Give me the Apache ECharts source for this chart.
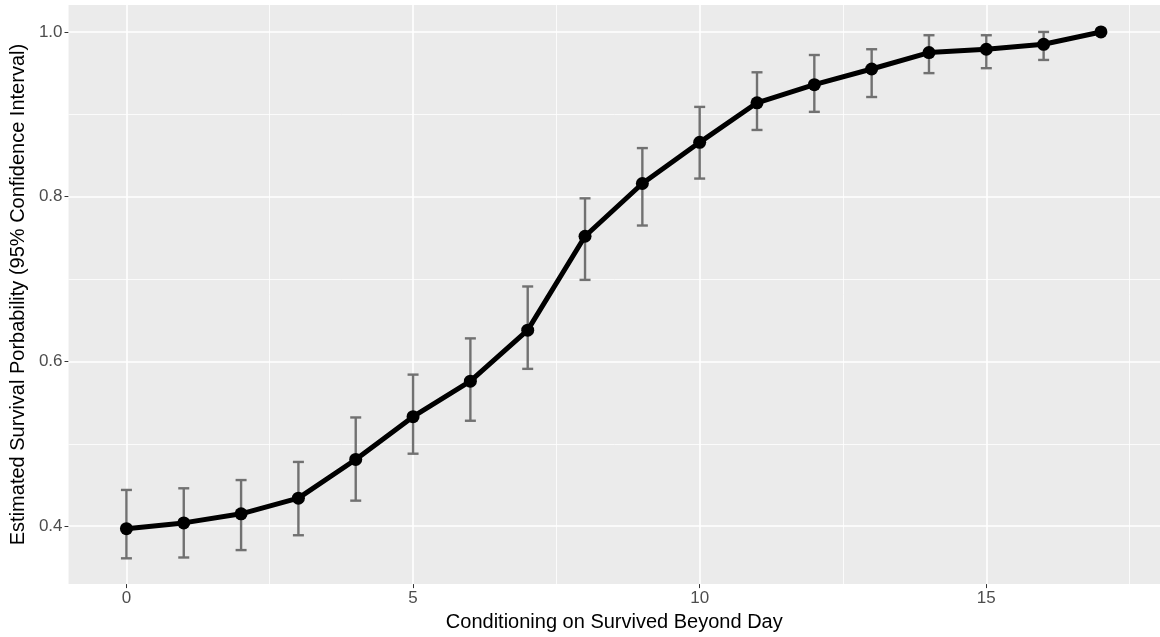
<!DOCTYPE html>
<html>
<head>
<meta charset="utf-8">
<script src="https://cdn.jsdelivr.net/npm/echarts@6/dist/echarts.min.js"></script>
<style>
  html, body { margin: 0; padding: 0; background: #fff; }
  #chart { width: 1160px; height: 637px; }
</style>
</head>
<body>
<div id="chart"></div>
<script>
// day conditioned on, estimate and 95% CI
var days = [0, 1, 2, 3, 4, 5, 6, 7, 8, 9, 10, 11, 12, 13, 14, 15, 16, 17]
var estimate = [0.397, 0.404, 0.415, 0.434, 0.481, 0.533, 0.576, 0.638, 0.752, 0.816, 0.866, 0.914, 0.936, 0.955, 0.975, 0.979, 0.985, 1.0]
var lower = [0.361, 0.362, 0.371, 0.389, 0.431, 0.488, 0.528, 0.591, 0.699, 0.765, 0.822, 0.881, 0.903, 0.921, 0.950, 0.956, 0.966, null]
var upper = [0.444, 0.446, 0.456, 0.478, 0.532, 0.584, 0.628, 0.691, 0.798, 0.859, 0.909, 0.951, 0.972, 0.979, 0.996, 0.996, 1.0, null]

var xTicks = [0, 5, 10, 15]
var xMinor = [2.5, 7.5, 12.5, 17.5]
var yTicks = [0.4, 0.6, 0.8, 1.0]
var yMinor = [0.5, 0.7, 0.9]

var lineData = days.map(function (d, i) { return [d, estimate[i]] })
var ciData = []
days.forEach(function (d, i) {
  if (lower[i] != null) ciData.push([d, lower[i], upper[i]])
})

var gridLines = []
xTicks.forEach(function (v) { gridLines.push({ xAxis: v, lineStyle: { width: 1.6 } }) })
xMinor.forEach(function (v) { gridLines.push({ xAxis: v, lineStyle: { width: 0.8 } }) })
yTicks.forEach(function (v) { gridLines.push({ yAxis: v, lineStyle: { width: 1.6 } }) })
yMinor.forEach(function (v) { gridLines.push({ yAxis: v, lineStyle: { width: 0.8 } }) })

var font = 'Liberation Sans, Arial, sans-serif'
var chart = echarts.init(document.getElementById('chart'), null, { renderer: 'canvas' })

var option = {
  animation: false,
  backgroundColor: '#ffffff',
  grid: {
    left: 67,
    right: 0,
    top: 5,
    bottom: 52,
    show: true,
    backgroundColor: '#ebebeb',
    borderWidth: 0
  },
  xAxis: {
    type: 'value',
    min: -1.01,
    max: 18.03,
    name: 'Conditioning on Survived Beyond Day',
    nameLocation: 'middle',
    nameGap: 25,
    nameTextStyle: { color: '#000', fontSize: 20, fontFamily: font },
    axisLine: { show: false, onZero: false },
    axisTick: { show: true, customValues: xTicks, length: 4, lineStyle: { color: '#333', width: 1 } },
    axisLabel: { customValues: xTicks, color: '#4d4d4d', fontSize: 17, fontFamily: font, margin: 6 },
    splitLine: { show: false }
  },
  yAxis: {
    type: 'value',
    min: 0.3297,
    max: 1.0327,
    name: 'Estimated Survival Porbability (95% Confidence Interval)',
    nameLocation: 'middle',
    nameGap: 35,
    nameRotate: 90,
    nameTextStyle: { color: '#000', fontSize: 20, fontFamily: font },
    axisLine: { show: false, onZero: false },
    axisTick: { show: true, customValues: yTicks, length: 4, lineStyle: { color: '#333', width: 1 } },
    axisLabel: {
      customValues: yTicks,
      color: '#4d4d4d',
      fontSize: 17,
      fontFamily: font,
      margin: 6,
      formatter: function (v) { return v.toFixed(1) }
    },
    splitLine: { show: false }
  },
  series: [
    {
      name: 'grid',
      type: 'line',
      data: [],
      z: 1,
      silent: true,
      markLine: {
        z: 1,
        silent: true,
        symbol: 'none',
        label: { show: false },
        lineStyle: { color: '#ffffff', type: 'solid' },
        data: gridLines
      }
    },
    {
      name: 'ci',
      type: 'custom',
      z: 3,
      data: ciData,
      renderItem: function (params, api) {
        var lo = api.coord([api.value(0), api.value(1)])
        var hi = api.coord([api.value(0), api.value(2)])
        var cap = 5.5
        var style = { stroke: '#717171', lineWidth: 2.4, fill: null }
        return {
          type: 'group',
          children: [
            { type: 'line', shape: { x1: lo[0], y1: lo[1], x2: hi[0], y2: hi[1] }, style: style },
            { type: 'line', shape: { x1: lo[0] - cap, y1: lo[1], x2: lo[0] + cap, y2: lo[1] }, style: style },
            { type: 'line', shape: { x1: hi[0] - cap, y1: hi[1], x2: hi[0] + cap, y2: hi[1] }, style: style }
          ]
        }
      }
    },
    {
      name: 'estimate',
      type: 'line',
      z: 4,
      data: lineData,
      symbol: 'circle',
      symbolSize: 13,
      showSymbol: true,
      lineStyle: { color: '#000', width: 5 },
      itemStyle: { color: '#000' }
    }
  ]
}
chart.setOption(option)
</script>
</body>
</html>
